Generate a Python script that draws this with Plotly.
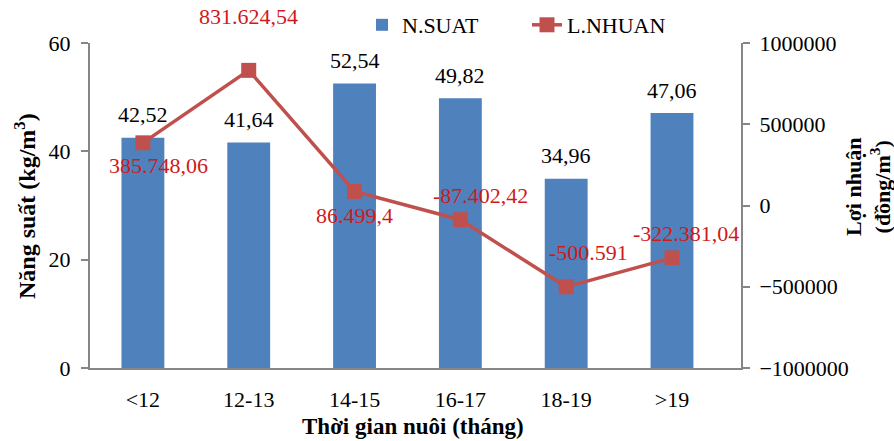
import plotly.graph_objects as go

# Thời gian nuôi (tháng) categories
categories = ["<12", "12-13", "14-15", "16-17", "18-19", ">19"]
# Năng suất (kg/m3)
nang_suat = [42.52, 41.64, 52.54, 49.82, 34.96, 47.06]
# Lợi nhuận (đồng/m3)
loi_nhuan = [385748.06, 831624.54, 86499.4, -87402.42, -500591, -322381.04]

# label offsets (px) for the profit labels
ln_xshift = [16, 0, 0, 20, 22, 14]
ln_yshift = [-23, 54, -24, 24, 34, 24]

FONT = "Liberation Serif, Times New Roman, serif"
BLUE = "#4F81BD"
RED_LINE = "#C0504D"
RED_TEXT = "#D01A1A"
AXIS = "#868686"

W, H = 894, 441
L, R, T, B = 90, 153, 43, 73


def px_x(px):
    return (px - L) / (W - L - R)


def px_y(py):
    return (H - B - py) / (H - T - B)


def vn_number(v):
    """Vietnamese style: '.' thousands separator, ',' decimal mark."""
    s = f"{abs(v):,.2f}"
    if "." in s:
        s = s.rstrip("0").rstrip(".")
    s = s.replace(",", "_").replace(".", ",").replace("_", ".")
    return ("-" if v < 0 else "") + s


fig = go.Figure()

fig.add_trace(go.Bar(
    x=categories, y=nang_suat, name="N.SUAT",
    marker=dict(color=BLUE, line=dict(width=0)),
    yaxis="y",
))

fig.add_trace(go.Scatter(
    x=categories, y=loi_nhuan, name="L.NHUAN",
    mode="lines+markers",
    line=dict(color=RED_LINE, width=3.5),
    marker=dict(symbol="square", size=15, color=RED_LINE),
    yaxis="y2",
))

annotations = []
for c, v in zip(categories, nang_suat):
    annotations.append(dict(
        x=c, y=v, xref="x", yref="y", text=f"{v:.2f}".replace(".", ","),
        showarrow=False, yshift=23, yanchor="middle",
        font=dict(family=FONT, size=22, color="black"),
    ))
for c, v, dx, dy in zip(categories, loi_nhuan, ln_xshift, ln_yshift):
    annotations.append(dict(
        x=c, y=v, xref="x", yref="y2", text=vn_number(v),
        showarrow=False, xshift=dx, yshift=dy, yanchor="middle",
        font=dict(family=FONT, size=22, color=RED_TEXT),
    ))

# axis titles
annotations.append(dict(
    x=px_x(25), y=px_y(206), xref="paper", yref="paper",
    text="<b>Năng suất (kg/m<sup>3</sup>)</b>", textangle=-90,
    showarrow=False, xanchor="center", yanchor="middle",
    font=dict(family=FONT, size=24, color="black"),
))
annotations.append(dict(
    x=px_x(868), y=px_y(187), xref="paper", yref="paper",
    text="<b>Lợi nhuận<br>(đồng/m<sup>3</sup>)</b>", textangle=-90,
    showarrow=False, xanchor="center", yanchor="middle",
    font=dict(family=FONT, size=22, color="black"),
))
annotations.append(dict(
    x=px_x(413), y=px_y(427), xref="paper", yref="paper",
    text="<b>Thời gian nuôi (tháng)</b>",
    showarrow=False, xanchor="center", yanchor="middle",
    font=dict(family=FONT, size=23, color="black"),
))

fig.update_layout(
    width=W, height=H,
    margin=dict(l=L, r=R, t=T, b=B, autoexpand=False),
    paper_bgcolor="white", plot_bgcolor="white",
    font=dict(family=FONT, size=22, color="black"),
    bargap=0.595,
    showlegend=True,
    legend=dict(
        orientation="h", x=px_x(362), xanchor="left", y=px_y(25), yanchor="middle",
        font=dict(family=FONT, size=22, color="black"),
        bgcolor="rgba(0,0,0,0)", itemwidth=30, entrywidth=120,
    ),
    xaxis=dict(
        automargin=False,
        showline=True, linecolor=AXIS, linewidth=2,
        ticks="", ticklabelstandoff=11,
        tickfont=dict(family=FONT, size=22, color="black"),
        showgrid=False, zeroline=False,
    ),
    yaxis=dict(
        automargin=False,
        range=[0, 60], dtick=20,
        showline=True, linecolor=AXIS, linewidth=2,
        ticks="outside", ticklen=7, tickcolor=AXIS, tickwidth=2,
        ticklabelstandoff=6,
        tickfont=dict(family=FONT, size=22, color="black"),
        showgrid=False, zeroline=False,
    ),
    yaxis2=dict(
        automargin=False,
        overlaying="y", side="right",
        range=[-1000000, 1000000], dtick=500000, tickformat="d",
        showline=True, linecolor=AXIS, linewidth=2,
        ticks="outside", ticklen=7, tickcolor=AXIS, tickwidth=2,
        ticklabelstandoff=5,
        tickfont=dict(family=FONT, size=22, color="black"),
        showgrid=False, zeroline=False,
    ),
    annotations=annotations,
)

fig.write_html("out.html")
